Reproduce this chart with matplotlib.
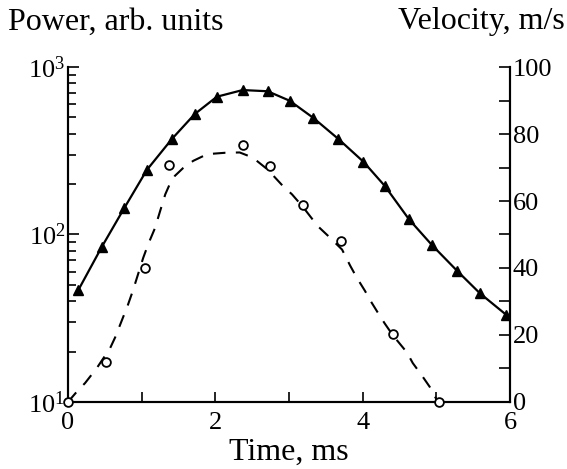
import numpy as np
import matplotlib
matplotlib.use("Agg")
from matplotlib import pyplot as plt
from matplotlib.ticker import LogLocator, MultipleLocator, NullFormatter

plt.rcParams['font.family'] = ['Liberation Serif', 'DejaVu Serif']
plt.rcParams['mathtext.fontset'] = 'custom'
plt.rcParams['mathtext.rm'] = 'Liberation Serif'

# power (triangles, left log axis)
t_power = [0.14, 0.46, 0.76, 1.07, 1.41, 1.72, 2.02, 2.37, 2.71, 3.01,
           3.33, 3.67, 4.01, 4.30, 4.63, 4.94, 5.28, 5.59, 5.95]
power = [46.6, 84.6, 143, 243, 372, 524, 665, 729, 717, 629,
         497, 372, 272, 195, 123, 86.5, 60.8, 44.6, 33.1]

# velocity (circles, right axis)
t_vel = [0, 0.52, 1.04, 1.37, 2.38, 2.74, 3.19, 3.71, 4.41, 5.03]
vel = [0, 12.0, 40.1, 70.8, 76.8, 70.6, 58.8, 48.1, 20.4, 0]

# dashed fit curve for velocity
t_fit = [0, 0.14, 0.23, 0.39, 0.57, 0.64, 0.81, 0.88, 1.02, 1.09, 1.18,
         1.25, 1.32, 1.38, 1.45, 1.56, 1.70, 1.89, 2.13, 2.33, 2.47, 2.54,
         2.71, 2.92, 3.04, 3.19, 3.39, 3.53, 3.72, 3.83, 3.92, 4.03, 4.12,
         4.23, 4.30, 4.41, 4.60, 4.68, 4.80, 4.91, 5.02]
v_fit = [0, 3.6, 5.6, 10.1, 16.0, 19.3, 28.8, 33.2, 43.0, 47.2, 51.9,
         57.0, 62.0, 65.0, 67.5, 69.8, 72.0, 74.0, 74.4, 74.5, 73.3, 72.4,
         69.4, 64.4, 62.0, 58.2, 52.5, 49.6, 45.5, 40.7, 37.1, 33.2, 29.7,
         25.8, 23.4, 19.9, 14.8, 11.6, 8.0, 4.5, 0]

fig = plt.figure(figsize=(5.67, 4.69), dpi=100)
ax = fig.add_axes([0.12, 0.143, 0.7795, 0.714])
ax2 = ax.twinx()

ax.set_yscale('log')
ax.set_ylim(10, 1000)
ax.set_xlim(0, 6)
ax2.set_ylim(0, 100)

ax.plot(t_power, power, color='black', lw=1.6, marker='^', ms=7,
        mfc='black', mec='black', zorder=3)
ax2.plot(t_fit, v_fit, color='black', lw=1.5, ls=(0, (6, 5)), zorder=2)
ax2.plot(t_vel, vel, ls='none', marker='o', ms=6.3, mfc='white', mec='black',
         mew=1.3, clip_on=False, zorder=5)

# left axis ticks
ax.yaxis.set_minor_locator(LogLocator(base=10, subs=np.arange(2, 10), numticks=12))
ax.yaxis.set_minor_formatter(NullFormatter())
ax.set_yticks([10, 100, 1000])
ax.set_yticklabels(['$\\mathregular{10^1}$', '$\\mathregular{10^2}$', '$\\mathregular{10^3}$'])

ax.set_xticks([0, 2, 4, 6])
ax.xaxis.set_minor_locator(MultipleLocator(1))
ax.tick_params(axis='both', which='both', direction='in', labelsize=19, width=1.2)
ax.tick_params(axis='y', which='major', length=8, pad=2)
ax.tick_params(axis='y', which='minor', length=6)
ax.tick_params(axis='x', which='both', length=7, pad=7, top=False)

ax2.yaxis.set_major_locator(MultipleLocator(20))
ax2.yaxis.set_minor_locator(MultipleLocator(10))
ax2.tick_params(axis='y', which='both', direction='in', length=8, width=1.2,
                labelsize=19, pad=2)

for a in (ax, ax2):
    a.spines['top'].set_visible(False)
    for s in ('left', 'right', 'bottom'):
        a.spines[s].set_linewidth(1.5)

fig.text(8 / 567, 1 - 22 / 469, 'Power, arb. units', fontsize=23, va='center', ha='left')
fig.text(565 / 567, 1 - 22 / 469, 'Velocity, m/s', fontsize=23, va='center', ha='right')
ax.set_xlabel('Time, ms', fontsize=23, labelpad=3)

fig.savefig('out.png', dpi=100)
